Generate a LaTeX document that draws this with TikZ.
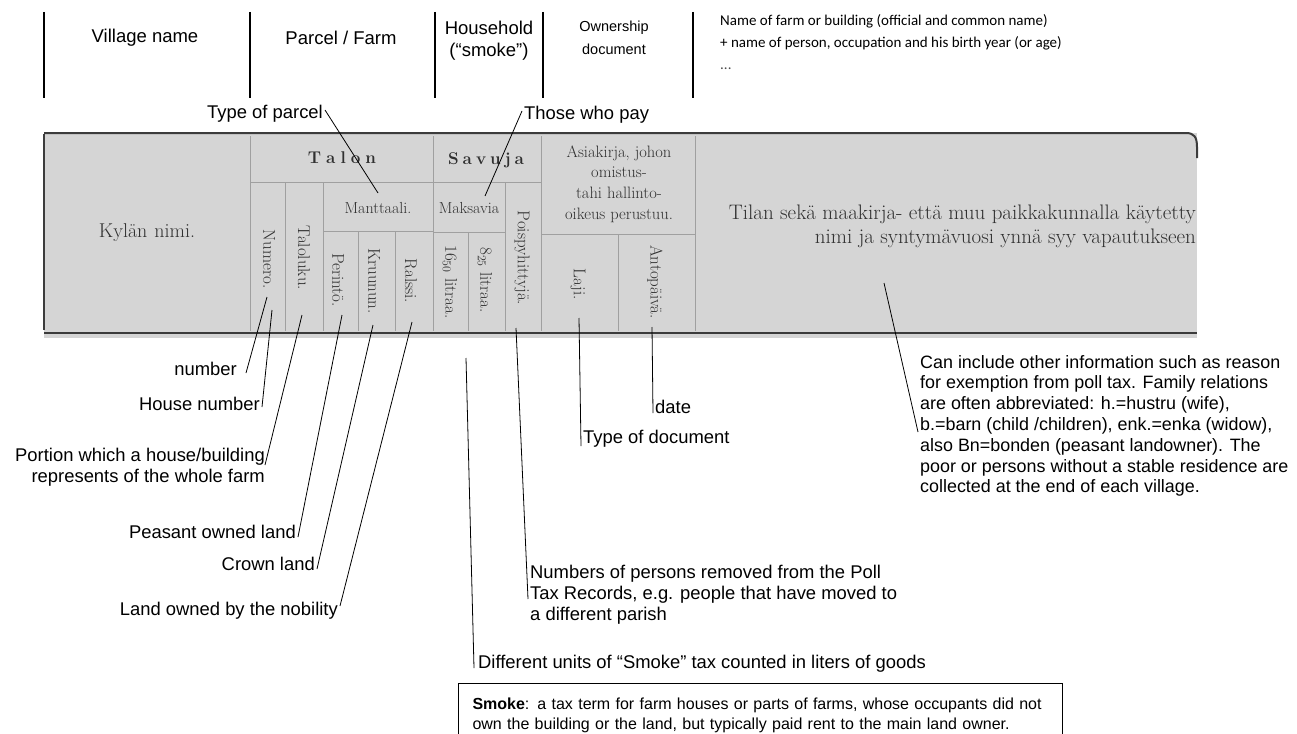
\documentclass[tikz,border=0pt]{standalone}
\usepackage{fontspec}
\newfontfamily\annfam{Liberation Sans}
\newfontfamily\califam{Carlito}
\definecolor{scanbg}{RGB}{213,213,213}
\definecolor{scantxt}{RGB}{48,48,48}
\definecolor{scanline}{RGB}{160,160,160}
\definecolor{scandark}{RGB}{60,60,60}
\newcommand\annf{\annfam\fontsize{18.4}{20.8}\selectfont}
\newcommand\hdrf{\annfam\fontsize{18.5}{22}\selectfont}
\newcommand\scanf[1]{\fontsize{#1}{#1}\selectfont}
\tikzset{
  ann/.style={font=\annf, inner sep=0pt, align=left},
  hdr/.style={font=\hdrf, inner sep=0pt, align=center},
  leader/.style={draw=black, line width=0.8pt},
  hdrline/.style={draw=black, line width=1.2pt},
  inner/.style={draw=scanline, line width=0.8pt},
  scan/.style={text=scantxt, inner sep=0pt, align=center},
  rot/.style={scan, rotate=-90, font=\scanf{17}},
}
\begin{document}
\begin{tikzpicture}[x=1pt,y=-1pt]
\path[use as bounding box] (0,0) rectangle (1297,733);
\clip (0,0) rectangle (1297,733);
% ---------------- header row
\foreach \x in {44,250,435,543,693} \draw[hdrline] (\x,12) -- (\x,98);
\node[hdr] (hv) at (145,38) {Village name};
\node[hdr] (hp) at (341,38) {Parcel / Farm};
\node[hdr] (hh) at (489,41) {Household\\(“smoke”)};
\node[hdr, font=\annfam\fontsize{14.5}{23}\selectfont] (ho) at (614,38) {Ownership\\document};
\node[inner sep=0pt, align=left, anchor=north west, font=\califam\fontsize{15}{22}\selectfont] (hn) at (720,14)
  {Name of farm or building (official and common name)\\+ name of person, occupation and his birth year (or age)\\{\color{black!70}...}};
% ---------------- scanned table
\fill[scanbg] (44,133) rectangle (1197,338);
\draw[scandark, line width=2pt] (44,133) -- (1186,133) .. controls (1194,133) and (1197,137) .. (1197,147) -- (1197,158);
\draw[scandark, line width=1.5pt] (44,134) -- (44,330);
\draw[scandark, line width=2.5pt] (44,333) -- (1197,333);
\foreach \x in {250,433,541,695} \draw[inner] (\x,136) -- (\x,331);
\draw[inner] (250,182) -- (541,182);
\draw[inner] (285,182) -- (285,331);
\draw[inner] (323,182) -- (323,331);
\draw[inner] (323,231) -- (433,231);
\draw[inner] (358,231) -- (358,331);
\draw[inner] (395,231) -- (395,331);
\draw[inner] (433,232) -- (505,232);
\draw[inner] (505,182) -- (505,331);
\draw[inner] (468,232) -- (468,331);
\draw[inner] (541,234) -- (695,234);
\draw[inner] (618,234) -- (618,331);
\node[scan, font=\scanf{20}] (kyl) at (147,233) {Kylän\hspace{7pt}nimi.};
\node[scan, font=\bfseries\scanf{17}] (talon) at (342,158) {T\hspace{5pt}a\hspace{5pt}l\hspace{5pt}o\hspace{5pt}n};
\node[scan, font=\bfseries\scanf{17}] (savuja) at (486,160) {S\hspace{4pt}a\hspace{4pt}v\hspace{4pt}u\hspace{4pt}j\hspace{4pt}a};
\node[scan, font=\scanf{16}] (mant) at (378,208) {Manttaali.};
\node[scan, font=\scanf{16}] (maks) at (469,208) {Maksavia};
\node[scan, font=\fontsize{16.5}{20.7}\selectfont] (asia) at (619,184) {Asiakirja, johon\\omistus-\\tahi hallinto-\\oikeus perustuu.};
\node[rot] (numero) at (269,259) {Numero.};
\node[rot] (talol) at (304,258) {Taloluku.};
\node[rot] (perinto) at (338,280) {Perintö.};
\node[rot] (kruunu) at (374,281) {Kruunun.};
\node[rot] (ralssi) at (411,281) {Ralssi.};
\node[rot] (l16) at (450,282) {16$_{50}$ litraa.};
\node[rot] (l8) at (485,280) {8$_{25}$ litraa.};
\node[rot] (poisp) at (522,258) {Poispyhittyjä.};
\node[rot] (laji) at (578,284) {Laji.};
\node[rot] (anto) at (655,282) {Antopäivä.};
\node[scan, align=right, anchor=north east, font=\fontsize{21}{24}\selectfont] (tilan) at (1196,205)
  {Tilan sekä maakirja- että muu paikkakunnalla käytetty\\nimi ja syntymävuosi ynnä syy vapautukseen};
% ---------------- leader start points (in table)
\coordinate (sParcel) at (378,193);
\coordinate (sPay) at (485,196);
\coordinate (sNum) at (267,297);
\coordinate (sHouse) at (272,310);
\coordinate (sPortion) at (302,315);
\coordinate (sPeasant) at (342,315);
\coordinate (sCrown) at (373,325);
\coordinate (sNobility) at (412,322);
\coordinate (sUnits) at (466,358);
\coordinate (sPois) at (516,328);
\coordinate (sLaji) at (579,318);
\coordinate (sAnto) at (652,327);
\coordinate (sTilan) at (884,283);
% ---------------- annotations
\node[ann, anchor=east] (tparcel) at (323,114) {Type of parcel};
\coordinate (eParcel) at (325,110);
\node[ann, anchor=west] (tpay) at (524,115) {Those who pay};
\coordinate (ePay) at (522,111);
\node[ann, anchor=east] (tnum) at (237,369) {number};
\coordinate (eNum) at (246,373);
\node[ann, anchor=east] (thouse) at (260,404) {House number};
\coordinate (eHouse) at (262,407);
\node[ann, anchor=east, align=right] (tportion) at (265,467) {Portion which a house/building\\represents of the whole farm};
\coordinate (ePortion) at (265,465);
\node[ann, anchor=east] (tpeasant) at (296,532) {Peasant owned land};
\coordinate (ePeasant) at (298,537);
\node[ann, anchor=east] (tcrown) at (315,564) {Crown land};
\coordinate (eCrown) at (317,569);
\node[ann, anchor=east] (tnob) at (338,611) {Land owned by the nobility};
\coordinate (eNobility) at (340,606);
\node[ann, anchor=west] (tunits) at (478,664) {Different units of “Smoke” tax counted in liters of goods};
\coordinate (eUnits) at (474,668);
\node[ann, anchor=north west] (tpois) at (530,565) {Numbers of persons removed from the Poll\\Tax Records, e.g. people that have moved to\\a different parish};
\coordinate (ePois) at (528,599);
\node[ann, anchor=west] (tdoc) at (583,439) {Type of document};
\coordinate (eLaji) at (581,446);
\node[ann, anchor=west] (tdate) at (655,407) {date};
\coordinate (eAnto) at (653,413);
\node[ann, anchor=north west, font=\annfam\fontsize{17.9}{20.8}\selectfont] (tcan) at (920,355) {Can include other information such as reason\\for exemption from poll tax. Family relations\\are often abbreviated: h.=hustru (wife),\\b.=barn (child /children), enk.=enka (widow),\\also Bn=bonden (peasant landowner). The\\poor or persons without a stable residence are\\collected at the end of each village.};
\coordinate (eTilan) at (918,432);
\foreach \a in {Parcel,Pay,Num,House,Portion,Peasant,Crown,Nobility,Units,Pois,Laji,Anto,Tilan}
  \draw[leader] (s\a) -- (e\a);
% ---------------- smoke box
\node[draw=black, line width=1pt, anchor=north west, minimum width=604pt, minimum height=64pt,
      inner xsep=14pt, inner ysep=7pt, align=left, text width=576pt,
      font=\annfam\fontsize{16}{20}\selectfont] (smoke) at (458,683)
  {\textbf{Smoke}: a tax term for farm houses or parts of farms, whose occupants did not\\own the building or the land, but typically paid rent to the main land owner.};
\end{tikzpicture}
\end{document}
